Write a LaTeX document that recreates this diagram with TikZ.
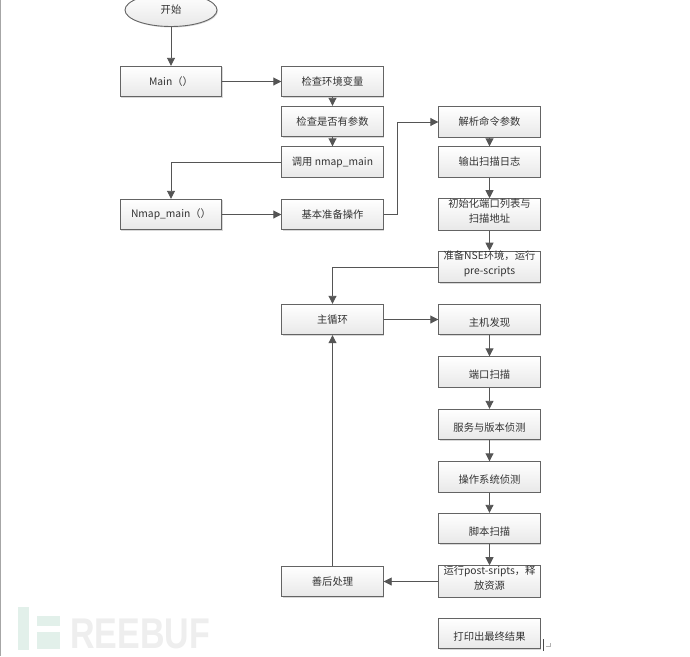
\documentclass[tikz,border=0pt]{standalone}
\usepackage{fontspec}
\setmainfont{Noto Sans CJK SC}
\newfontfamily\markfont{Liberation Sans}
\usetikzlibrary{arrows.meta,shadows,shapes.geometric}
\definecolor{boxline}{RGB}{100,100,100}
\definecolor{flowline}{RGB}{85,85,85}
\definecolor{logogreen}{RGB}{226,240,234}
\definecolor{logogray}{RGB}{238,238,238}
\newcommand{\LowText}[1]{\raisebox{0pt}[15pt][2pt]{#1}}
\tikzset{
  stepbox/.style={draw=boxline, line width=0.9pt, top color=white, bottom color=black!9,
    drop shadow={shadow xshift=1pt, shadow yshift=-1pt, opacity=0.3},
    minimum width=101.5pt, minimum height=30.5pt, inner sep=0pt, text=black!80,
    align=center, font=\fontsize{10.3}{14}\selectfont},
  startbox/.style={stepbox, ellipse, minimum width=92pt, minimum height=33pt},
  flow/.style={-{Triangle[length=8pt, width=8pt]}, draw=flowline, color=flowline, line width=0.9pt}
}
\begin{document}
\begin{tikzpicture}[x=1pt,y=-1pt]
  \clip (0,0) rectangle (690,656);
  \fill[white] (0,0) rectangle (690,656);
  \fill[black!35] (0,0) rectangle (1.2,656);
  % watermark
  \fill[logogreen] (18,607) rectangle (29,650);
  \fill[logogreen] (37,616) rectangle (60,626);
  \fill[logogreen] (37,632) rectangle (60,649);
  \node[anchor=base west, inner sep=0pt, text=logogray, xscale=0.79, transform shape] (logo) at (70,648)
    {\markfont\bfseries\fontsize{43}{43}\selectfont REEBUF};
  % left column
  \node[startbox] (start) at (171,10) {开始};
  \node[stepbox] (main) at (171,81.5) {Main（）};
  \node[stepbox] (nmap) at (171,214.5) {Nmap\_main（）};
  % middle column
  \node[stepbox] (env) at (332.5,81.5) {检查环境变量};
  \node[stepbox] (args) at (332.5,121.5) {检查是否有参数};
  \node[stepbox] (call) at (332.5,162) {调用 nmap\_main};
  \node[stepbox] (prep) at (332.5,214.5) {基本准备操作};
  \node[stepbox] (loop) at (332.5,319.5) {主循环};
  \node[stepbox] (after) at (332.5,581.5) {善后处理};
  % right column
  \node[stepbox] (parse) at (489.5,122) {解析命令参数};
  \node[stepbox] (log) at (489.5,162) {输出扫描日志};
  \node[stepbox] (init) at (489.5,214.5) {初始化端口列表与\\[1pt]扫描地址\\[-6pt]};
  \node[stepbox] (nse) at (489.5,267) {准备NSE环境，运行\\[1pt]pre-scripts\\[-6pt]};
  \node[stepbox] (host) at (489.5,319.5) {\LowText{主机发现}};
  \node[stepbox] (port) at (489.5,372) {\LowText{端口扫描}};
  \node[stepbox] (serv) at (489.5,424.5) {\LowText{服务与版本侦测}};
  \node[stepbox] (os) at (489.5,477) {\LowText{操作系统侦测}};
  \node[stepbox] (script) at (489.5,528.5) {\LowText{脚本扫描}};
  \node[stepbox] (post) at (489.5,581.5) {运行post-sripts，释\\[1pt]放资源\\[-6pt]};
  \node[stepbox] (print) at (489.5,633.5) {\LowText{打印出最终结果}};
  % straight runs
  \foreach \a/\b in {start/main,main/env,env/args,args/call,nmap/prep,parse/log,log/init,
    init/nse,loop/host,host/port,port/serv,serv/os,os/script,script/post,post/after,after/loop}
    \draw[flow] (\a) -- (\b);
  % elbows
  \draw[flow] (call.west) -| (nmap.north);
  \draw[flow] (prep.east) -- ++(14,0) |- (parse.west);
  \draw[flow] (nse.west) -| (loop.north);
  % end of line mark
  \draw[black!70, line width=1.6pt] (543.5,639) -- (543.5,651);
  \draw[black!30, line width=0.6pt] (550,643) -- (550,646) -- (546,646);
\end{tikzpicture}
\end{document}
